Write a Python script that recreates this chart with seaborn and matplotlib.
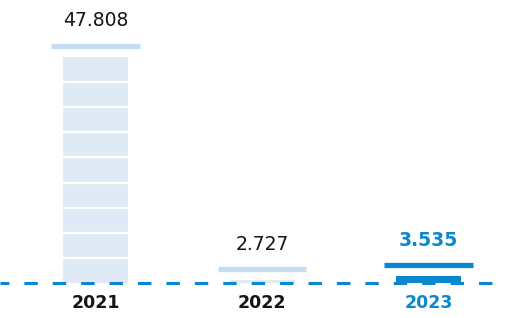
import numpy as np
import pandas as pd
import seaborn as sns
import matplotlib.pyplot as plt

# data
roky = ['2021', '2022', '2023']
hodnoty = [47808, 2727, 3535]
popisky = ['47.808', '2.727', '3.535']

# barvy
svetla = '#e0eaf6'
svetla_cara = '#c5dcf3'
modra = '#0a88cf'
barvy_sloupcu = [svetla, svetla, modra]
barvy_car = [svetla_cara, svetla_cara, modra]
barvy_textu = ['#151515', '#151515', modra]

mezera = 2200      # mezera mezi sloupcem a carou nad nim
segmentu = 9       # pocet dilku v prvnim sloupci

df = pd.DataFrame({'Rok': roky,
                   'Sloupec': [max(v - mezera, 0) for v in hodnoty]})

plt.rcParams['font.family'] = ['DejaVu Sans']
fig = plt.figure(figsize=(5.05, 3.18), dpi=100)
ax = fig.add_axes([0, 0, 1, 1])

sns.barplot(data=df, x='Rok', y='Sloupec', hue='Rok', palette=barvy_sloupcu,
            width=0.39, legend=False, ax=ax, saturation=1, linewidth=0)

# bile delici cary v nejvyssim sloupci
vyska = df['Sloupec'][0]
krok = vyska / segmentu
for k in range(1, segmentu):
    ax.hlines(k * krok, -0.2, 0.2, color='white', lw=1.6, zorder=3)

# cary nad sloupci + popisky
for i, v in enumerate(hodnoty):
    ax.hlines(v, i - 0.265, i + 0.265, color=barvy_car[i], lw=3.8, zorder=3)
    ax.text(i, v + 5100, popisky[i], ha='center', va='center',
            fontsize=13.5, color=barvy_textu[i],
            fontweight='bold' if i == 2 else 'normal')
    ax.text(i, -4100, roky[i], ha='center', va='center', fontsize=12.5,
            fontweight='bold', color=barvy_textu[i])

# prerusovana zakladni cara
ax.axhline(0, color=modra, lw=2.2, linestyle=(1.5, (4.4, 4.9)), zorder=4)

ax.set_xlim(-0.574, 2.459)
ax.set_ylim(-7061, 57091)
ax.axis('off')

plt.savefig('out.png', dpi=100)
